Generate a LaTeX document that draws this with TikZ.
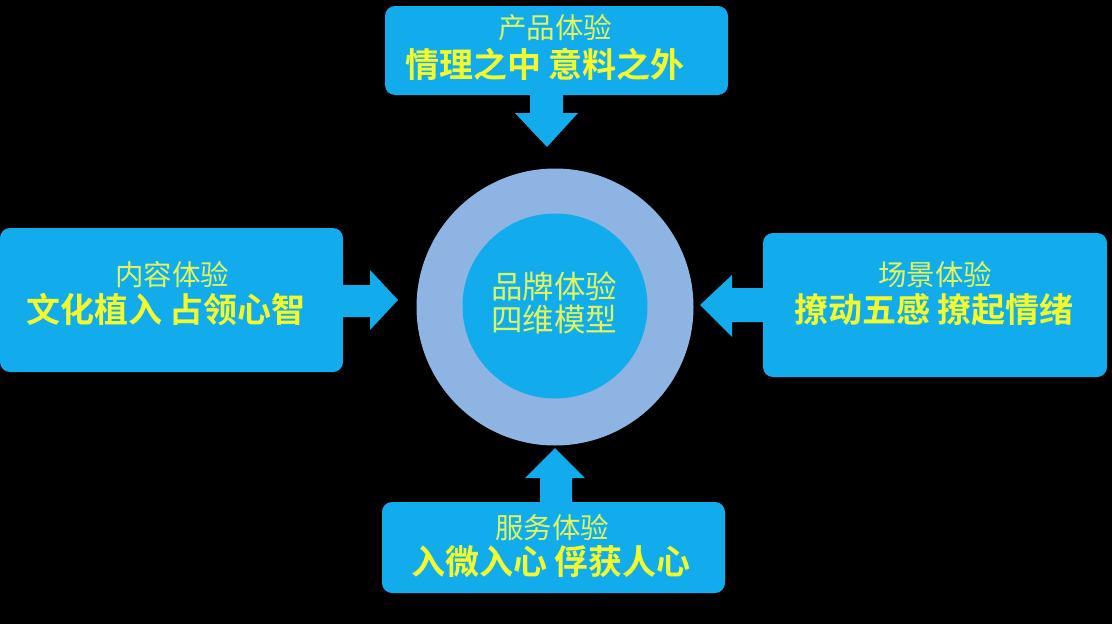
\documentclass[tikz,border=0pt]{standalone}
\usepackage{fontspec}
\setmainfont{Noto Sans CJK SC}
\newfontfamily\cjk{Noto Sans CJK SC}
\newfontfamily\cjkb{Noto Sans CJK SC Bold}
\definecolor{boxblue}{RGB}{18,172,236}
\definecolor{ringblue}{RGB}{141,180,226}
\definecolor{titleyel}{RGB}{222,245,95}
\definecolor{boldyel}{RGB}{242,250,45}
\tikzset{
  boxnode/.style={fill=boxblue, rounded corners=10pt, inner sep=0pt},
  titletext/.style={text=titleyel, font=\cjk\fontsize{28.5}{32}\selectfont, inner sep=0pt},
  boldtext/.style={text=boldyel, font=\cjkb\fontsize{34}{38}\selectfont, inner sep=0pt},
  centertext/.style={text=titleyel, font=\cjk\fontsize{31.5}{35}\selectfont, inner sep=0pt, align=center},
  blockarrow/.style={fill=boxblue}
}
\begin{document}
\begin{tikzpicture}[x=1pt,y=-1pt]
\fill[black] (0,0) rectangle (1112,624);
\useasboundingbox (0,0) rectangle (1112,624);
% boxes
\node[boxnode, minimum width=343pt, minimum height=89pt] (top) at (556.5,50.5) {};
\node[boxnode, minimum width=343pt, minimum height=144pt] (left) at (171.5,300) {};
\node[boxnode, minimum width=344pt, minimum height=144pt] (right) at (935,305) {};
\node[boxnode, minimum width=343pt, minimum height=91pt] (bottom) at (553.5,547.5) {};
% circle
\node[circle, fill=ringblue, minimum size=277pt, inner sep=0pt] (ring) at (555,307) {};
\node[circle, fill=boxblue, minimum size=185pt, inner sep=0pt] (core) at (555,306) {};
\node[centertext] (coretext) at (554,303) {品牌体验\\[-2pt]四维模型};
% texts
\node[titletext] (toptitle) at (555,28) {产品体验};
\node[boldtext] (topbold) at (545,64) {情理之中 意料之外};
\node[titletext] (lefttitle) at (172,275) {内容体验};
\node[boldtext] (leftbold) at (166,310) {文化植入 占领心智};
\node[titletext] (righttitle) at (935,275) {场景体验};
\node[boldtext] (rightbold) at (934,310) {撩动五感 撩起情绪};
\node[titletext] (bottomtitle) at (552,528) {服务体验};
\node[boldtext] (bottombold) at (551,562) {入微入心 俘获人心};
% block arrows
\fill[blockarrow] (530,94) -- (530,113) -- (515,113) -- (547,147) -- (578,113) -- (563,113) -- (563,94) -- cycle;
\fill[blockarrow] (342,285) -- (370,285) -- (370,270) -- (398,300) -- (370,330) -- (370,317) -- (342,317) -- cycle;
\fill[blockarrow] (764,288) -- (732,288) -- (732,275) -- (700,305) -- (732,337) -- (732,322) -- (764,322) -- cycle;
\fill[blockarrow] (540,503) -- (540,478) -- (525,478) -- (555,448) -- (585,478) -- (572,478) -- (572,503) -- cycle;
\end{tikzpicture}
\end{document}
